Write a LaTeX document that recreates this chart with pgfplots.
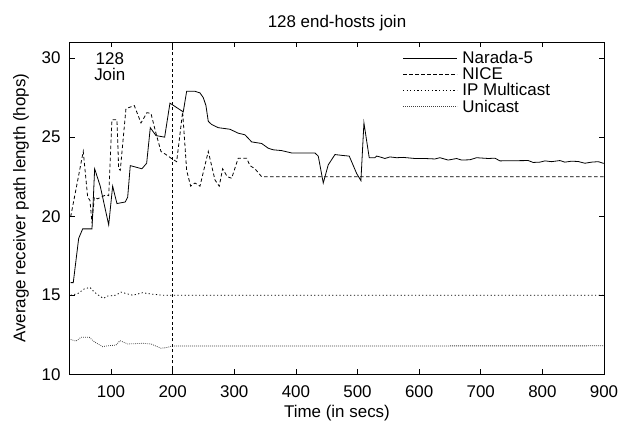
\documentclass[border=0pt]{standalone}
\usepackage{fontspec}
\setmainfont{Liberation Sans}
\usepackage{pgfplots}
\pgfplotsset{compat=1.18}
\begin{document}
\begin{tikzpicture}
\useasboundingbox (-70bp,-53.7bp) rectangle (561bp,374.3bp);
\begin{axis}[
  at={(0,0)}, anchor=south west,
  scale only axis, width=534bp, height=332bp,
  xmin=33.4, xmax=900, ymin=10, ymax=31,
  xtick={100,200,...,900}, ytick={10,15,...,30},
  /pgf/number format/assume math mode=true,
  font=\fontsize{17}{20}\selectfont,
  tick align=inside, major tick length=5bp,
  tick style={black, line width=0.7bp},
  axis line style={line width=1bp},
  xticklabel style={yshift=-8bp},
  yticklabel style={xshift=-6bp},
  title={128 end-hosts join},
  title style={yshift=2bp},
  xlabel={Time (in secs)},
  ylabel={Average receiver path length (hops)},
  xlabel style={yshift=-1bp},
  ylabel style={yshift=6bp},
  legend style={draw=none, fill=none, at={(0.617,0.985)}, anchor=north west,
    font=\fontsize{17}{17}\selectfont, row sep=-1.5bp},
  legend cell align=left,
  legend image code/.code={\draw[#1] (0bp,0bp) -- (54bp,0bp);},
  /tikz/every odd column/.append style={column sep=3bp},
]
\addplot[black, line width=0.8bp] coordinates {
(34.5,15.8)(38.7,15.8)(47.5,18.6)(54.0,19.2)(69.1,19.2)(73.4,23.0)(82.5,21.9)
(96.2,19.45)(102.6,21.9)(109.6,20.8)(123.1,20.9)(127.0,21.2)(131.2,23.2)
(150.1,23.0)(157.8,23.35)(163.7,25.6)(172.9,25.1)(187.0,25.0)(195.6,27.15)
(217.2,26.6)(222.7,27.9)(236.2,27.9)(244.3,27.8)(249.7,27.5)(254.0,27.0)
(257.8,26.0)(263.3,25.8)(274.0,25.6)(293.0,25.5)(301.1,25.35)(306.5,25.25)
(317.3,25.15)(328.2,24.7)(344.4,24.6)(355.1,24.3)(363.2,24.2)(376.9,24.15)
(393.1,24.0)(430.9,24.0)(436.3,23.8)(444.4,22.1)(452.5,23.25)(463.4,23.9)
(474.2,23.85)(486.6,23.8)(498.6,22.7)(505.5,22.25)(510.4,25.9)(519.0,23.7)
(528.2,23.7)(531.0,23.8)(536.4,23.75)(544.4,23.65)(552.6,23.75)(563.5,23.7)
(574.2,23.72)(593.2,23.65)(609.4,23.65)(625.6,23.62)(633.7,23.7)(647.2,23.55)
(660.8,23.65)(668.9,23.55)(682.4,23.57)(693.3,23.7)(712.1,23.65)(723.0,23.67)
(731.1,23.5)(777.0,23.52)(785.1,23.4)(796.0,23.42)(804.1,23.5)(815.0,23.45)
(828.4,23.52)(836.5,23.42)(847.4,23.48)(858.1,23.46)(869.0,23.35)(879.9,23.42)
(890.6,23.45)(898.7,23.35)(900,23.35)
};
\addlegendentry{Narada-5}
\addplot[black, line width=0.8bp, dash pattern=on 3.5bp off 2.5bp] coordinates {
(34.5,19.97)(43.1,21.7)(54.9,24.1)(62.1,21.2)(65.8,21.0)(69.1,19.55)(72.8,21.2)
(78.3,21.1)(91.8,21.35)(96.2,21.3)(101.5,26.1)(109.6,26.1)(112.4,23.0)(115.0,22.9)
(124.2,26.8)(137.7,27.0)(148.6,25.9)(158.3,26.55)(164.8,26.5)(172.9,25.25)
(181.0,24.1)(189.1,23.9)(200,23.6)(206.5,23.45)(216.2,26.6)(222.7,22.9)
(229.2,21.9)(236.2,22.1)(244.3,21.9)(257.8,24.1)(268.6,22.3)(275.6,21.9)
(281.1,23.0)(288.6,22.5)(295.7,22.4)(306.4,23.67)(320.1,23.67)(325.4,23.2)
(333.5,23.0)(344.4,22.5)(900,22.5)
};
\addlegendentry{NICE}
\addplot[black, line width=0.8bp, dash pattern=on 1.2bp off 2.4bp] coordinates {
(34.5,15.0)(45.8,15.1)(56.5,15.4)(65.8,15.5)(72.8,15.2)(79.9,15.0)(87.4,14.8)
(94.5,14.95)(108.0,15.0)(116.1,15.2)(127.0,15.08)(135.1,15.0)(151.3,15.16)
(164.8,15.08)(183.8,15.0)(200,15.0)(900,15.0)
};
\addlegendentry{IP Multicast}
\addplot[black!75, line width=0.8bp, dash pattern=on 0.8bp off 1.2bp] coordinates {
(34.5,12.2)(43.1,12.1)(51.2,12.34)(64.7,12.34)(72.8,12.06)(86.4,11.75)(94.5,11.8)
(108,11.85)(114.5,12.13)(127,11.92)(151.3,11.96)(164.8,11.92)(181,11.65)
(189.1,11.68)(198.9,11.79)(900,11.8)
};
\addlegendentry{Unicast}
\addplot[black, line width=0.8bp, dash pattern=on 3bp off 2.5bp, forget plot] coordinates {(200,10)(200,31)};
\node[align=center, font=\fontsize{17}{16}\selectfont] at (axis cs:98,29.45) {128\\Join};
\end{axis}
\end{tikzpicture}
\end{document}
